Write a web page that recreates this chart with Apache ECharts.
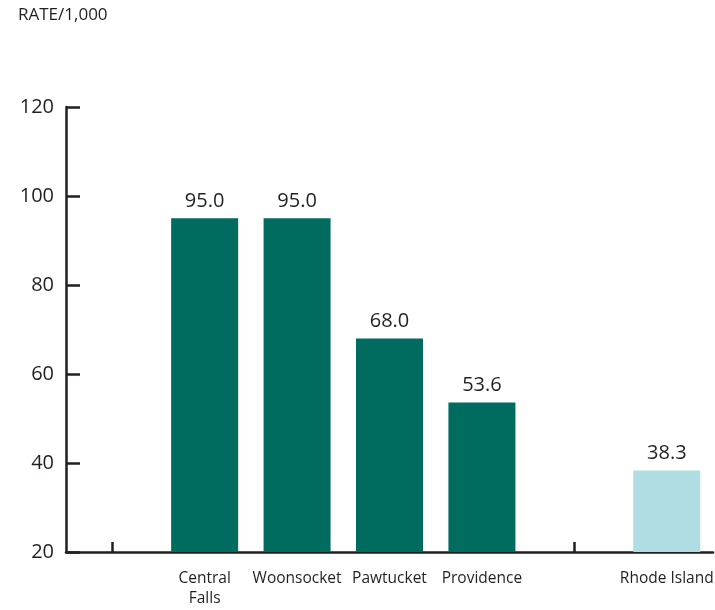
<!DOCTYPE html>
<html><head><meta charset="utf-8">
<script src="https://cdn.jsdelivr.net/npm/echarts@6/dist/echarts.min.js"></script>
<style>html,body{margin:0;padding:0;background:#fff}#c{width:715px;height:610px}</style>
</head><body><div id="c"></div>
<script>
const categories = ["", "Central Falls", "Woonsocket", "Pawtucket", "Providence", "", "Rhode Island"];
const values = [null, 95.0, 95.0, 68.0, 53.6, null, 38.3];
const barColors = ["#006b5f", "#006b5f", "#006b5f", "#006b5f", "#006b5f", "#006b5f", "#b0dde4"];
const tickLabels = [20, 40, 60, 80, 100, 120];
const axisColor = "#231f20";
const font = "Open Sans";
const chart = echarts.init(document.getElementById('c'));
chart.setOption({
  animation: false,
  title: { text: "RATE/1,000", left: 18, top: 7, padding: 0, textStyle: { fontFamily: font, fontSize: 17, fontWeight: 'normal', color: axisColor } },
  grid: { left: 66, right: 2, top: 107, bottom: 58, containLabel: false, outerBoundsMode: 'none' },
  xAxis: {
    type: 'category', data: categories,
    axisLine: { show: true, lineStyle: { color: axisColor, width: 2.5 } },
    axisTick: { show: true, alignWithLabel: true, inside: true, length: 10, interval: 4, lineStyle: { color: axisColor, width: 2.5 } },
    axisLabel: { interval: 0, margin: 17, fontFamily: font, fontSize: 15.5, color: axisColor, lineHeight: 20,
      formatter: function (v) { return v === "Central Falls" ? "Central\nFalls" : v; } }
  },
  yAxis: {
    type: 'value', min: 20, max: 120, interval: 20,
    splitLine: { show: false },
    axisLine: { show: true, lineStyle: { color: axisColor, width: 2.5 } },
    axisTick: { show: true, inside: true, length: 14, lineStyle: { color: axisColor, width: 2.5 } },
    axisLabel: { margin: 12, fontFamily: font, fontSize: 20, color: axisColor,
      formatter: function (v) { return tickLabels.indexOf(v) >= 0 ? String(v) : ''; } }
  },
  series: [{
    type: 'bar', barWidth: 67,
    data: values.map((v, i) => ({ value: v, itemStyle: { color: barColors[i] } })),
    label: { show: true, position: 'top', distance: 7, fontFamily: font, fontSize: 20, color: axisColor,
      formatter: function (p) { return p.value == null ? '' : p.value.toFixed(1); } }
  }]
});
</script></body></html>
